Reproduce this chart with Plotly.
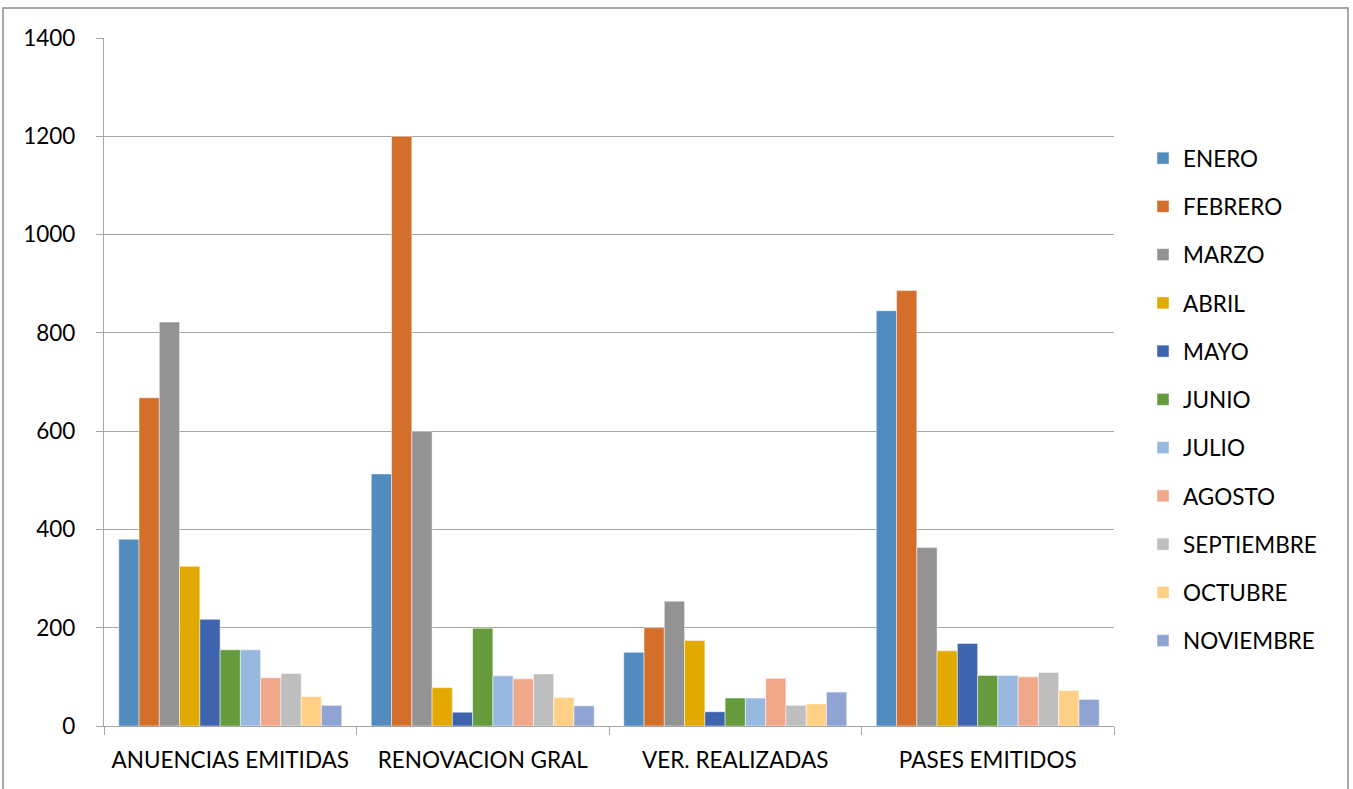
import plotly.graph_objects as go

categories = ["ANUENCIAS EMITIDAS", "RENOVACION GRAL", "VER. REALIZADAS", "PASES EMITIDOS"]
months = ["ENERO", "FEBRERO", "MARZO", "ABRIL", "MAYO", "JUNIO", "JULIO",
          "AGOSTO", "SEPTIEMBRE", "OCTUBRE", "NOVIEMBRE"]

enero = [380, 513, 150, 845]
febrero = [668, 1200, 200, 886]
marzo = [822, 600, 254, 363]
abril = [325, 78, 174, 153]
mayo = [217, 28, 29, 168]
junio = [155, 199, 57, 103]
julio = [155, 102, 57, 103]
agosto = [98, 96, 97, 100]
septiembre = [107, 106, 42, 109]
octubre = [60, 58, 45, 72]
noviembre = [42, 41, 69, 54]

series = [enero, febrero, marzo, abril, mayo, junio, julio, agosto,
          septiembre, octubre, noviembre]
colors = ["#518BBF", "#D46F2B", "#939393", "#E2AA00", "#3D64AD", "#659A3D",
          "#98B9DF", "#F0A78A", "#BEBEBE", "#FFD086", "#90A4D4"]

yticks = [0, 200, 400, 600, 800, 1000, 1200, 1400]

FONT = "Lato"
FS = 22.5

fig = go.Figure()
for name, vals, col in zip(months, series, colors):
    fig.add_trace(go.Bar(
        x=categories, y=vals, name=name, legendgroup=name,
        marker=dict(color=col, line=dict(color="rgba(255,255,255,0.6)", width=0.8)),
    ))

L, R, T, B = 104, 1114, 38, 726
W, H = 1353, 789
pw, ph = R - L, B - T

fig.update_layout(
    width=W, height=H,
    margin=dict(l=L, r=W - R, t=T, b=H - B, pad=0),
    paper_bgcolor="white", plot_bgcolor="white",
    barmode="group", bargap=0.117, bargroupgap=0,
    font=dict(family=FONT, size=FS, color="#000000"),
    showlegend=True,
    legend=dict(
        x=(1143 - L) / pw, xanchor="left",
        y=(B - 399.5) / ph, yanchor="middle",
        font=dict(family=FONT, size=FS, color="#000000"),
        tracegroupgap=16, itemwidth=30,
        bgcolor="rgba(0,0,0,0)",
    ),
    xaxis=dict(
        type="category", showline=True, linecolor="#A6A6A6", linewidth=1.3,
        ticks="outside", tickson="boundaries", ticklen=8, tickcolor="#A6A6A6",
        tickwidth=1.3, showgrid=False, ticklabelstandoff=14,
        tickfont=dict(family=FONT, size=FS, color="#000000"),
    ),
    yaxis=dict(
        range=[0, 1400], tickvals=yticks, showline=True, linecolor="#A6A6A6",
        linewidth=1.3, ticks="outside", ticklen=7, tickcolor="#A6A6A6",
        tickwidth=1.3, showgrid=True, gridcolor="#A6A6A6", gridwidth=1.3,
        zeroline=False, ticklabelstandoff=16,
        tickfont=dict(family=FONT, size=FS, color="#000000"),
    ),
    shapes=[dict(
        type="rect", xref="paper", yref="paper",
        x0=(3 - L) / pw, x1=(1348 - L) / pw,
        y0=(B - 800) / ph, y1=(B - 8) / ph,
        line=dict(color="#8C8C8C", width=1.5), fillcolor="rgba(0,0,0,0)",
        layer="below",
    )],
)

fig.write_html("out.html", config={"displayModeBar": False},
               post_script="document.body.style.margin='0';document.body.style.overflow='hidden';")
